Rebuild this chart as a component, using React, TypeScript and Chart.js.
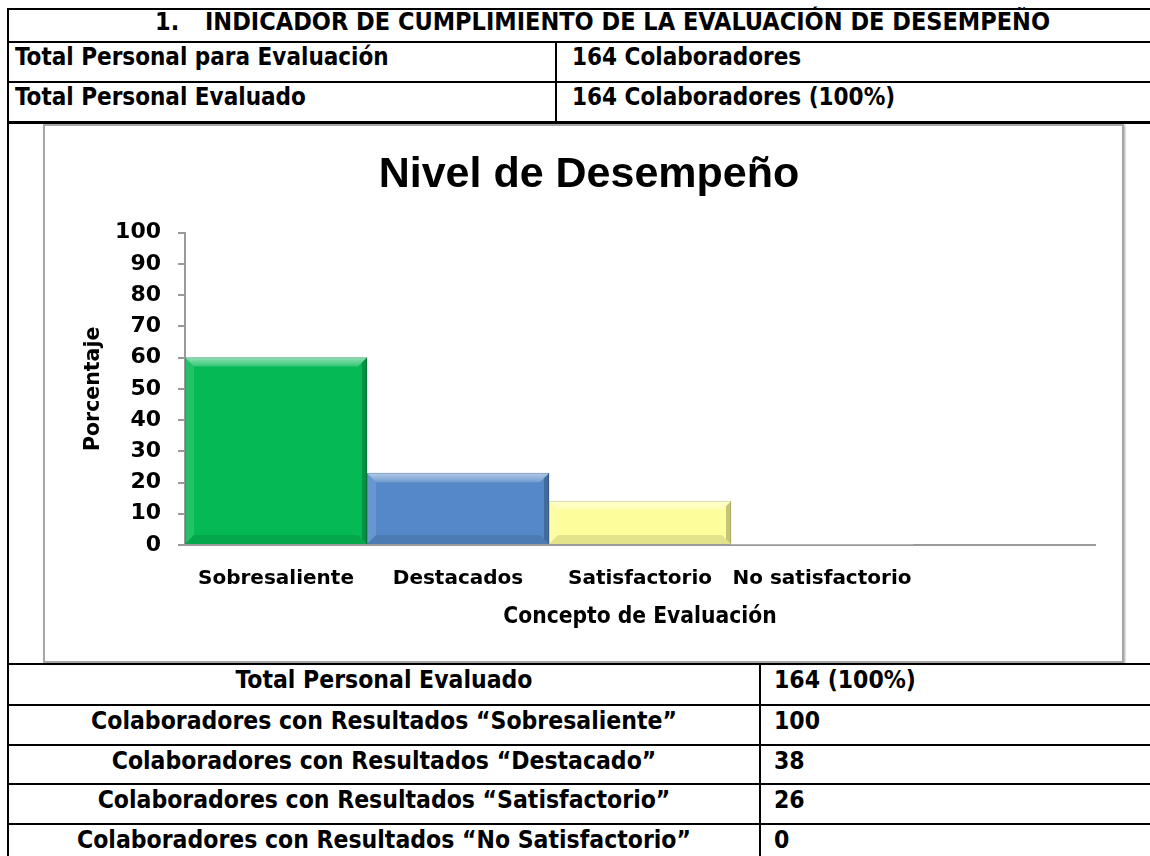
import React, { useEffect, useRef } from "react";
import { Chart, registerables } from "chart.js";

Chart.register(...registerables);

// ---- chart data ----
const categories = ["Sobresaliente", "Destacados", "Satisfactorio", "No satisfactorio", ""];
const porcentajes: (number | null)[] = [60, 23, 14, 0, null];
const barColors = ["#05BA55", "#5588C8", "#FDFD9B", "#FFFFFF", "#FFFFFF"];
const barBorders = ["#04873E", "#3B679F", "#C9C675", "#FFFFFF", "#FFFFFF"];
const yMin = 0;
const yMax = 100;
const yStep = 10;
const chartTitle = "Nivel de Desempeño";
const xTitle = "Concepto de Evaluación";
const yTitle = "Porcentaje";

// ---- document texts ----
const headerNumber = "1.";
const headerText = "INDICADOR DE CUMPLIMIENTO DE LA EVALUACIÓN DE DESEMPEÑO";
const topLabels = ["Total Personal para Evaluación", "Total Personal Evaluado"];
const topValues = ["164 Colaboradores", "164 Colaboradores (100%)"];
const resumenEtiquetas = [
  "Total Personal Evaluado",
  "Colaboradores con Resultados “Sobresaliente”",
  "Colaboradores con Resultados “Destacado”",
  "Colaboradores con Resultados “Satisfactorio”",
  "Colaboradores con Resultados “No Satisfactorio”",
];
const resumenValores = ["164 (100%)", "100", "38", "26", "0"];

const DV = "'DejaVu Sans', Verdana, sans-serif";
const DVC = "'DejaVu Sans Condensed', 'DejaVu Sans', sans-serif";
const LS = "'Liberation Sans', Arial, sans-serif";

const bevelPlugin = {
  id: "bevel",
  afterDatasetsDraw(chart: any) {
    const meta = chart.getDatasetMeta(0);
    const ctx = chart.ctx;
    const vals = chart.data.datasets[0].data;
    meta.data.forEach((bar: any, i: number) => {
      const v = vals[i];
      if (v == null || v === 0) return;
      const p = bar.getProps(["x", "y", "base", "width"], true);
      const l = p.x - p.width / 2;
      const r = p.x + p.width / 2;
      const t = Math.min(p.y, p.base);
      const b = Math.max(p.y, p.base);
      const d = Math.min(9, (b - t) / 2);
      ctx.save();
      const g = ctx.createLinearGradient(0, t, 0, t + d);
      g.addColorStop(0, "rgba(255,255,255,0.55)");
      g.addColorStop(1, "rgba(255,255,255,0.18)");
      ctx.fillStyle = g;
      ctx.beginPath();
      ctx.moveTo(l, t);
      ctx.lineTo(r, t);
      ctx.lineTo(r - d, t + d);
      ctx.lineTo(l + d, t + d);
      ctx.closePath();
      ctx.fill();
      ctx.fillStyle = "rgba(255,255,255,0.12)";
      ctx.beginPath();
      ctx.moveTo(l, t);
      ctx.lineTo(l + d, t + d);
      ctx.lineTo(l + d, b - d);
      ctx.lineTo(l, b);
      ctx.closePath();
      ctx.fill();
      const dr = Math.min(5, d);
      ctx.fillStyle = "rgba(0,0,0,0.22)";
      ctx.beginPath();
      ctx.moveTo(r, t);
      ctx.lineTo(r, b);
      ctx.lineTo(r - dr, b - dr);
      ctx.lineTo(r - dr, t + dr);
      ctx.closePath();
      ctx.fill();
      ctx.fillStyle = "rgba(0,0,0,0.10)";
      ctx.beginPath();
      ctx.moveTo(l, b);
      ctx.lineTo(r, b);
      ctx.lineTo(r - d, b - d);
      ctx.lineTo(l + d, b - d);
      ctx.closePath();
      ctx.fill();
      ctx.restore();
    });
  },
};

function BarChart() {
  const ref = useRef<HTMLCanvasElement | null>(null);
  useEffect(() => {
    if (!ref.current) return;
    const chart = new Chart(ref.current, {
      type: "bar",
      data: {
        labels: categories,
        datasets: [
          {
            data: porcentajes as any,
            backgroundColor: barColors,
            borderColor: barBorders,
            borderWidth: [1, 1, 1, 0, 0],
            categoryPercentage: 1,
            barPercentage: 1,
          } as any,
        ],
      },
      options: {
        animation: false,
        responsive: false,
        maintainAspectRatio: false,
        layout: { padding: { left: 38, right: 27, top: 0, bottom: 0 } },
        plugins: {
          legend: { display: false },
          tooltip: { enabled: false },
          title: {
            display: true,
            text: chartTitle,
            color: "#000",
            font: { family: LS, size: 43, weight: "bold", lineHeight: 1.2 },
            padding: { top: 23.5, bottom: 31.6 },
          },
        },
        scales: {
          x: {
            grid: { display: false, drawTicks: false },
            border: { display: true, color: "#9a9a9a", width: 2 },
            ticks: {
              color: "#000",
              font: { family: DV, size: 20, weight: "bold", lineHeight: 1.2 },
              padding: 22,
              autoSkip: false,
              maxRotation: 0,
              minRotation: 0,
            },
            title: {
              display: true,
              text: xTitle,
              color: "#000",
              font: { family: DVC, size: 22.6, weight: "bold", lineHeight: 1.2 },
              padding: { top: 0, bottom: 30 },
            },
            afterFit: (s: any) => {
              s.height = 116;
            },
          },
          y: {
            min: yMin,
            max: yMax,
            ticks: {
              stepSize: yStep,
              color: "#000",
              font: { family: DV, size: 22, weight: "bold" },
              padding: 17,
            },
            grid: {
              drawOnChartArea: false,
              drawTicks: true,
              tickLength: 7,
              color: "#9a9a9a",
              lineWidth: 2,
            },
            border: { display: true, color: "#9a9a9a", width: 2 },
            title: {
              display: true,
              text: yTitle,
              color: "#000",
              font: { family: DV, size: 20.5, weight: "bold", lineHeight: 1 },
              padding: { top: 0, bottom: 0 },
            },
            afterFit: (s: any) => {
              s.width = 102;
            },
          },
        },
      } as any,
      plugins: [bevelPlugin],
    });
    return () => chart.destroy();
  }, []);
  return (
    <canvas
      ref={ref}
      width={1077}
      height={535}
      style={{ position: "absolute", left: 45, top: 126, width: 1077, height: 535 }}
    />
  );
}

const line = (left: number, top: number, width: number, height: number, key: string) => (
  <div key={key} style={{ position: "absolute", left, top, width, height, background: "#000" }} />
);

export default function App() {
  const condensed: React.CSSProperties = {
    position: "absolute",
    fontFamily: DVC,
    fontWeight: "bold",
    color: "#000",
    whiteSpace: "nowrap",
  };
  const lowerLines = [663, 704, 744, 783, 823];
  return (
    <div
      style={{
        position: "absolute",
        left: 0,
        top: 0,
        width: 1150,
        height: 856,
        background: "#fff",
        overflow: "hidden",
      }}
    >
      {line(7, 8, 1143, 2, "t0")}
      {line(7, 41, 1143, 2, "t1")}
      {line(7, 81, 1143, 2, "t2")}
      {line(7, 121, 1143, 3, "t3")}
      {line(555, 42, 2, 80, "tv")}
      {line(7, 8, 2, 848, "lv")}
      <div style={{ ...condensed, left: 155, top: 6, height: 32, lineHeight: "32px", fontSize: 25 }}>
        <span style={{ display: "inline-block", width: 50 }}>{headerNumber}</span>
        {headerText}
      </div>
      {topLabels.map((t, i) => (
        <div key={"tl" + i} style={{ ...condensed, left: 15, top: 42 + i * 40, height: 31, lineHeight: "31px", fontSize: 24 }}>
          {t}
        </div>
      ))}
      {topValues.map((t, i) => (
        <div key={"tvv" + i} style={{ ...condensed, left: 572, top: 42 + i * 40, height: 31, lineHeight: "31px", fontSize: 24 }}>
          {t}
        </div>
      ))}
      <div
        style={{
          position: "absolute",
          left: 43,
          top: 124,
          width: 1077,
          height: 535,
          border: "2px solid #a6a6a6",
          boxShadow: "1px 1px 2px rgba(0,0,0,0.35)",
          background: "#fff",
        }}
      />
      <BarChart />
      {lowerLines.map((y, i) => line(7, y, 1143, 2, "l" + i))}
      {line(759, 663, 2, 193, "lvv")}
      {resumenEtiquetas.map((t, i) => (
        <div
          key={"re" + i}
          style={{
            ...condensed,
            left: 9,
            width: 750,
            textAlign: "center",
            top: lowerLines[i],
            height: 34,
            lineHeight: "34px",
            fontSize: 24.5,
          }}
        >
          {t}
        </div>
      ))}
      {resumenValores.map((t, i) => (
        <div key={"rv" + i} style={{ ...condensed, left: 774, top: lowerLines[i], height: 34, lineHeight: "34px", fontSize: 24.5 }}>
          {t}
        </div>
      ))}
    </div>
  );
}
